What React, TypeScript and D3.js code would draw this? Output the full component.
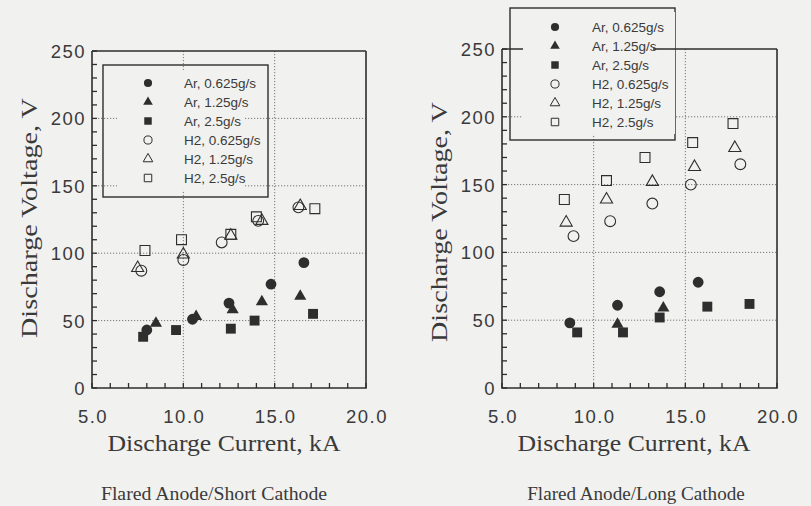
import React, { useEffect, useRef } from "react";
import * as d3 from "d3";

const W = 811;
const H = 506;

// legend / series definitions
const seriesNames = ["Ar, 0.625g/s", "Ar, 1.25g/s", "Ar, 2.5g/s", "H2, 0.625g/s", "H2, 1.25g/s", "H2, 2.5g/s"];
const seriesShapes = ["circle", "triangle", "square", "circle", "triangle", "square"];
const seriesFilled = [true, true, true, false, false, false];

const xTicks = [5, 10, 15, 20];
const yTicks = [0, 50, 100, 150, 200, 250];
const xGrid = [10, 15];
const yGrid = [50, 100, 150, 200];

// Flared Anode / Short Cathode  [current kA, voltage V]
const shortAr0625 = [[8.0, 43], [10.5, 51], [12.5, 63], [14.8, 77], [16.6, 93]];
const shortAr125 = [[8.5, 48], [10.7, 53], [12.7, 58], [14.3, 64], [16.4, 68]];
const shortAr25 = [[7.8, 38], [9.6, 43], [12.6, 44], [13.9, 50], [17.1, 55]];
const shortH20625 = [[7.7, 87], [10.0, 95], [12.1, 108], [14.1, 124], [16.3, 134]];
const shortH2125 = [[7.5, 89], [10.0, 99], [12.6, 113], [14.3, 124], [16.4, 135]];
const shortH225 = [[7.9, 102], [9.9, 110], [12.6, 114], [14.0, 127], [17.2, 133]];

// Flared Anode / Long Cathode
const longAr0625 = [[8.7, 48], [11.3, 61], [13.6, 71], [15.7, 78]];
const longAr125 = [[11.3, 47], [13.8, 59]];
const longAr25 = [[9.1, 41], [11.6, 41], [13.6, 52], [16.2, 60], [18.5, 62]];
const longH20625 = [[8.9, 112], [10.9, 123], [13.2, 136], [15.3, 150], [18.0, 165]];
const longH2125 = [[8.5, 122], [10.7, 139], [13.2, 152], [15.5, 163], [17.7, 177]];
const longH225 = [[8.4, 139], [10.7, 153], [12.8, 170], [15.4, 181], [17.6, 195]];

const panels = [
  {
    series: [shortAr0625, shortAr125, shortAr25, shortH20625, shortH2125, shortH225],
    caption: "Flared Anode/Short Cathode",
    x0: 92, x1: 366, y0: 51, y1: 388,
    yTitleX: 37, yTitleY: 218, xTitleX: 224, captionX: 214,
    legend: { x: 103, y: 65, w: 165, h: 132, symX: 148, textX: 184, row0: 83 },
    blank: [[117, 70, 128, 120]],
    topLine: [[92, 366]],
  },
  {
    series: [longAr0625, longAr125, longAr25, longH20625, longH2125, longH225],
    caption: "Flared Anode/Long Cathode",
    x0: 502, x1: 777, y0: 49, y1: 388,
    yTitleX: 447, yTitleY: 222, xTitleX: 634, captionX: 636,
    legend: { x: 510, y: 8, w: 165, h: 132, symX: 555, textX: 592, row0: 27 },
    blank: [[523, 12, 152, 122]],
    topLine: [[502, 523], [653, 777]],
  },
];

const BG = "#f1f1ef";
const INK = "#2e2e2e";
const TXT = "#3a3a3a";

function symbolPath(shape: string, size: number) {
  const type = shape === "circle" ? d3.symbolCircle : shape === "triangle" ? d3.symbolTriangle : d3.symbolSquare;
  return d3.symbol().type(type).size(size)() as string;
}

const markSize: Record<string, number> = { circle: 92, triangle: 64, square: 98 };
const legendSize: Record<string, number> = { circle: 52, triangle: 40, square: 56 };

function App() {
  const svgRef = useRef<SVGSVGElement>(null);

  useEffect(() => {
    const svg = d3.select(svgRef.current);
    svg.selectAll("*").remove();

    svg.append("rect").attr("width", W).attr("height", H).attr("fill", BG);

    panels.forEach((p) => {
      const g = svg.append("g");
      const x = d3.scaleLinear().domain([5, 20]).range([p.x0, p.x1]);
      const y = d3.scaleLinear().domain([0, 250]).range([p.y1, p.y0]);

      // dotted grid
      g.selectAll(".gx")
        .data(xGrid)
        .join("line")
        .attr("x1", (d) => x(d)).attr("x2", (d) => x(d))
        .attr("y1", p.y0).attr("y2", p.y1)
        .attr("stroke", "#777").attr("stroke-width", 1).attr("stroke-dasharray", "1.2,1.8");
      g.selectAll(".gy")
        .data(yGrid)
        .join("line")
        .attr("y1", (d) => y(d)).attr("y2", (d) => y(d))
        .attr("x1", p.x0).attr("x2", p.x1)
        .attr("stroke", "#777").attr("stroke-width", 1).attr("stroke-dasharray", "1.2,1.8");

      // minor ticks, pointing inward
      g.selectAll(".tx")
        .data(d3.range(5, 20.01, 1))
        .join("line")
        .attr("x1", (d) => x(d)).attr("x2", (d) => x(d))
        .attr("y1", p.y1).attr("y2", p.y1 - 5)
        .attr("stroke", INK).attr("stroke-width", 1.3);
      g.selectAll(".ty")
        .data(d3.range(0, 250.1, 10))
        .join("line")
        .attr("y1", (d) => y(d)).attr("y2", (d) => y(d))
        .attr("x1", p.x0).attr("x2", p.x0 + 5)
        .attr("stroke", INK).attr("stroke-width", 1.3);

      // legend box and its opaque entry area
      const lg = p.legend;
      g.append("rect")
        .attr("x", lg.x).attr("y", lg.y).attr("width", lg.w).attr("height", lg.h)
        .attr("fill", "none").attr("stroke", INK).attr("stroke-width", 1.4);
      p.blank.forEach((b) => {
        g.append("rect").attr("x", b[0]).attr("y", b[1]).attr("width", b[2]).attr("height", b[3]).attr("fill", BG);
      });

      // frame
      const frame = d3.path();
      frame.moveTo(p.x0, p.y0);
      frame.lineTo(p.x0, p.y1);
      frame.lineTo(p.x1, p.y1);
      frame.lineTo(p.x1, p.y0);
      p.topLine.forEach((s) => {
        frame.moveTo(s[0], p.y0);
        frame.lineTo(s[1], p.y0);
      });
      g.append("path").attr("d", frame.toString()).attr("fill", "none").attr("stroke", INK).attr("stroke-width", 1.6);

      // legend entries
      seriesNames.forEach((name, i) => {
        const ry = lg.row0 + i * 19;
        g.append("path")
          .attr("d", symbolPath(seriesShapes[i], legendSize[seriesShapes[i]]))
          .attr("transform", `translate(${lg.symX},${ry})`)
          .attr("fill", seriesFilled[i] ? INK : "none")
          .attr("stroke", INK).attr("stroke-width", seriesFilled[i] ? 0 : 1);
        g.append("text")
          .attr("x", lg.textX).attr("y", ry + 5)
          .attr("font-family", "Liberation Sans, Arial, sans-serif")
          .attr("font-size", 13.5)
          .attr("fill", TXT)
          .text(name);
      });

      // data points
      p.series.forEach((pts, i) => {
        g.selectAll(`.s${i}`)
          .data(pts)
          .join("path")
          .attr("d", symbolPath(seriesShapes[i], markSize[seriesShapes[i]]))
          .attr("transform", (d) => `translate(${x(d[0])},${y(d[1])})`)
          .attr("fill", seriesFilled[i] ? INK : "none")
          .attr("stroke", INK).attr("stroke-width", seriesFilled[i] ? 0 : 1.1);
      });

      // tick labels
      g.selectAll(".lx")
        .data(xTicks)
        .join("text")
        .attr("x", (d) => x(d) + 1).attr("y", p.y1 + 35)
        .attr("text-anchor", "middle")
        .attr("font-family", "Liberation Sans, Arial, sans-serif")
        .attr("font-size", 18.5).attr("letter-spacing", 1.5)
        .attr("fill", TXT)
        .text((d) => d.toFixed(1));
      g.selectAll(".ly")
        .data(yTicks)
        .join("text")
        .attr("x", p.x0 - 6).attr("y", (d) => y(d) + 7)
        .attr("text-anchor", "end")
        .attr("font-family", "Liberation Sans, Arial, sans-serif")
        .attr("font-size", 18.5).attr("letter-spacing", 1.5)
        .attr("fill", TXT)
        .text((d) => d);

      // axis titles (scan is slightly stretched horizontally)
      g.append("text")
        .attr("x", p.xTitleX).attr("y", p.y1 + 63)
        .attr("text-anchor", "middle")
        .attr("font-family", "Liberation Serif, Times New Roman, serif")
        .attr("font-size", 23)
        .attr("textLength", 233).attr("lengthAdjust", "spacingAndGlyphs")
        .attr("fill", TXT)
        .text("Discharge Current, kA");
      g.append("text")
        .attr("transform", `translate(${p.yTitleX},${p.yTitleY}) rotate(-90)`)
        .attr("text-anchor", "middle")
        .attr("font-family", "Liberation Serif, Times New Roman, serif")
        .attr("font-size", 23)
        .attr("textLength", 240).attr("lengthAdjust", "spacingAndGlyphs")
        .attr("fill", TXT)
        .text("Discharge Voltage, V");

      // caption
      g.append("text")
        .attr("x", p.captionX).attr("y", 500)
        .attr("text-anchor", "middle")
        .attr("font-family", "Liberation Serif, Times New Roman, serif")
        .attr("font-size", 18)
        .attr("textLength", p.caption.length * 8.7).attr("lengthAdjust", "spacingAndGlyphs")
        .attr("fill", TXT)
        .text(p.caption);
    });
  }, []);

  return (
    <svg
      ref={svgRef}
      width={W}
      height={H}
      style={{ position: "absolute", left: 0, top: 0, display: "block" }}
    ></svg>
  );
}

export default App;
